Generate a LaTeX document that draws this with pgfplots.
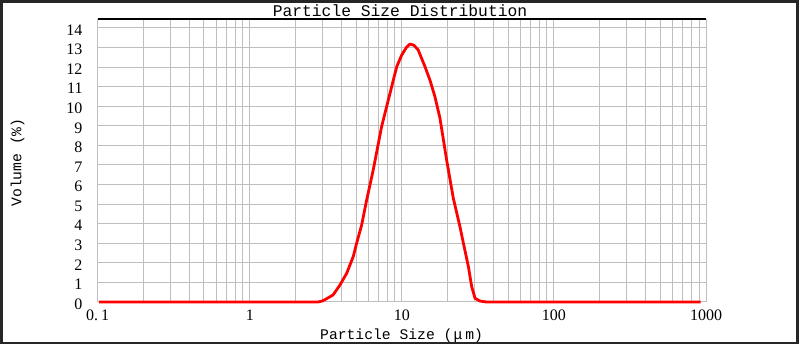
\documentclass[border=0pt]{standalone}
\usepackage{fontspec}
\usepackage{pgfplots}
\pgfplotsset{compat=1.18}
\newfontfamily\monofont{Liberation Mono}
\newfontfamily\seriffont{Liberation Serif}
\definecolor{gridgray}{RGB}{190,190,190}
\begin{document}
\begin{tikzpicture}
\useasboundingbox (0pt,0pt) rectangle (800pt,345pt);
\draw[line width=2.5pt, color=black!85] (1.3pt,2pt) rectangle (797.3pt,343.7pt);
\begin{axis}[
  at={(97.7pt,43pt)}, anchor=south west,
  scale only axis, width=608.3pt, height=283pt,
  xmode=log, xmin=0.1, xmax=1000, ymin=0, ymax=14.46,
  clip=false,
  axis line style={draw=none},
  tick style={draw=none},
  major tick length=0pt, minor tick length=0pt,
  xtick={0.1,1,10,100,1000},
  xticklabels={0.\hspace{3pt}1,1,10,100,1000},
  minor xtick={0.2,0.3,0.4,0.5,0.6,0.7,0.8,0.9,2,3,4,5,6,7,8,9,20,30,40,50,60,70,80,90,200,300,400,500,600,700,800,900},
  ytick={0,1,...,14},
  grid=both,
  major grid style={gridgray, line width=1pt},
  minor grid style={gridgray, line width=1pt},
  /pgf/number format/assume math mode=true,
  yticklabel style={font=\seriffont\fontsize{16}{16}\selectfont, anchor=east, inner sep=0pt, xshift=-15pt, yshift=-2pt},
  xticklabel style={font=\seriffont\fontsize{16}{16}\selectfont, anchor=north, inner sep=0pt, yshift=-8pt},
]
\draw[black, line width=1.6pt] (rel axis cs:0,1) -- (rel axis cs:1,1);
\addplot[red, line width=2.8pt, line join=round] coordinates {
(0.102,0) (2.8,0) (3.0,0.05) (3.12,0.12) (3.53,0.36) (3.92,0.87) (4.34,1.47) (4.79,2.32)
(5.04,3.0) (5.44,3.93) (5.87,5.21) (6.48,6.74) (7.36,8.96) (7.94,9.98)
(8.57,11.0) (9.25,12.02) (9.98,12.62) (10.7,13.0) (11.3,13.18) (12.0,13.12)
(12.8,12.88) (14.2,12.02) (15.3,11.34) (16.5,10.49) (17.8,9.40) (19.7,7.26)
(21.8,5.30) (24.1,3.85) (25.4,3.0) (27.4,1.80) (28.8,0.78) (30.3,0.19)
(32.6,0.05) (36,0) (920,0)
};
\end{axis}
\node[anchor=base, inner sep=0pt, font=\monofont\fontsize{16.3}{16.3}\selectfont] at (400pt,328pt) {Particle Size Distribution};
\node[anchor=base west, inner sep=0pt, font=\monofont\fontsize{14.7}{14.7}\selectfont] at (320pt,5pt) {Particle Size (\hspace{1pt}μ\hspace{3pt}m)};
\node[rotate=90, inner sep=0pt, font=\monofont\fontsize{14.7}{14.7}\selectfont] at (17.5pt,182.5pt) {Volume (\%)};
\end{tikzpicture}
\end{document}
